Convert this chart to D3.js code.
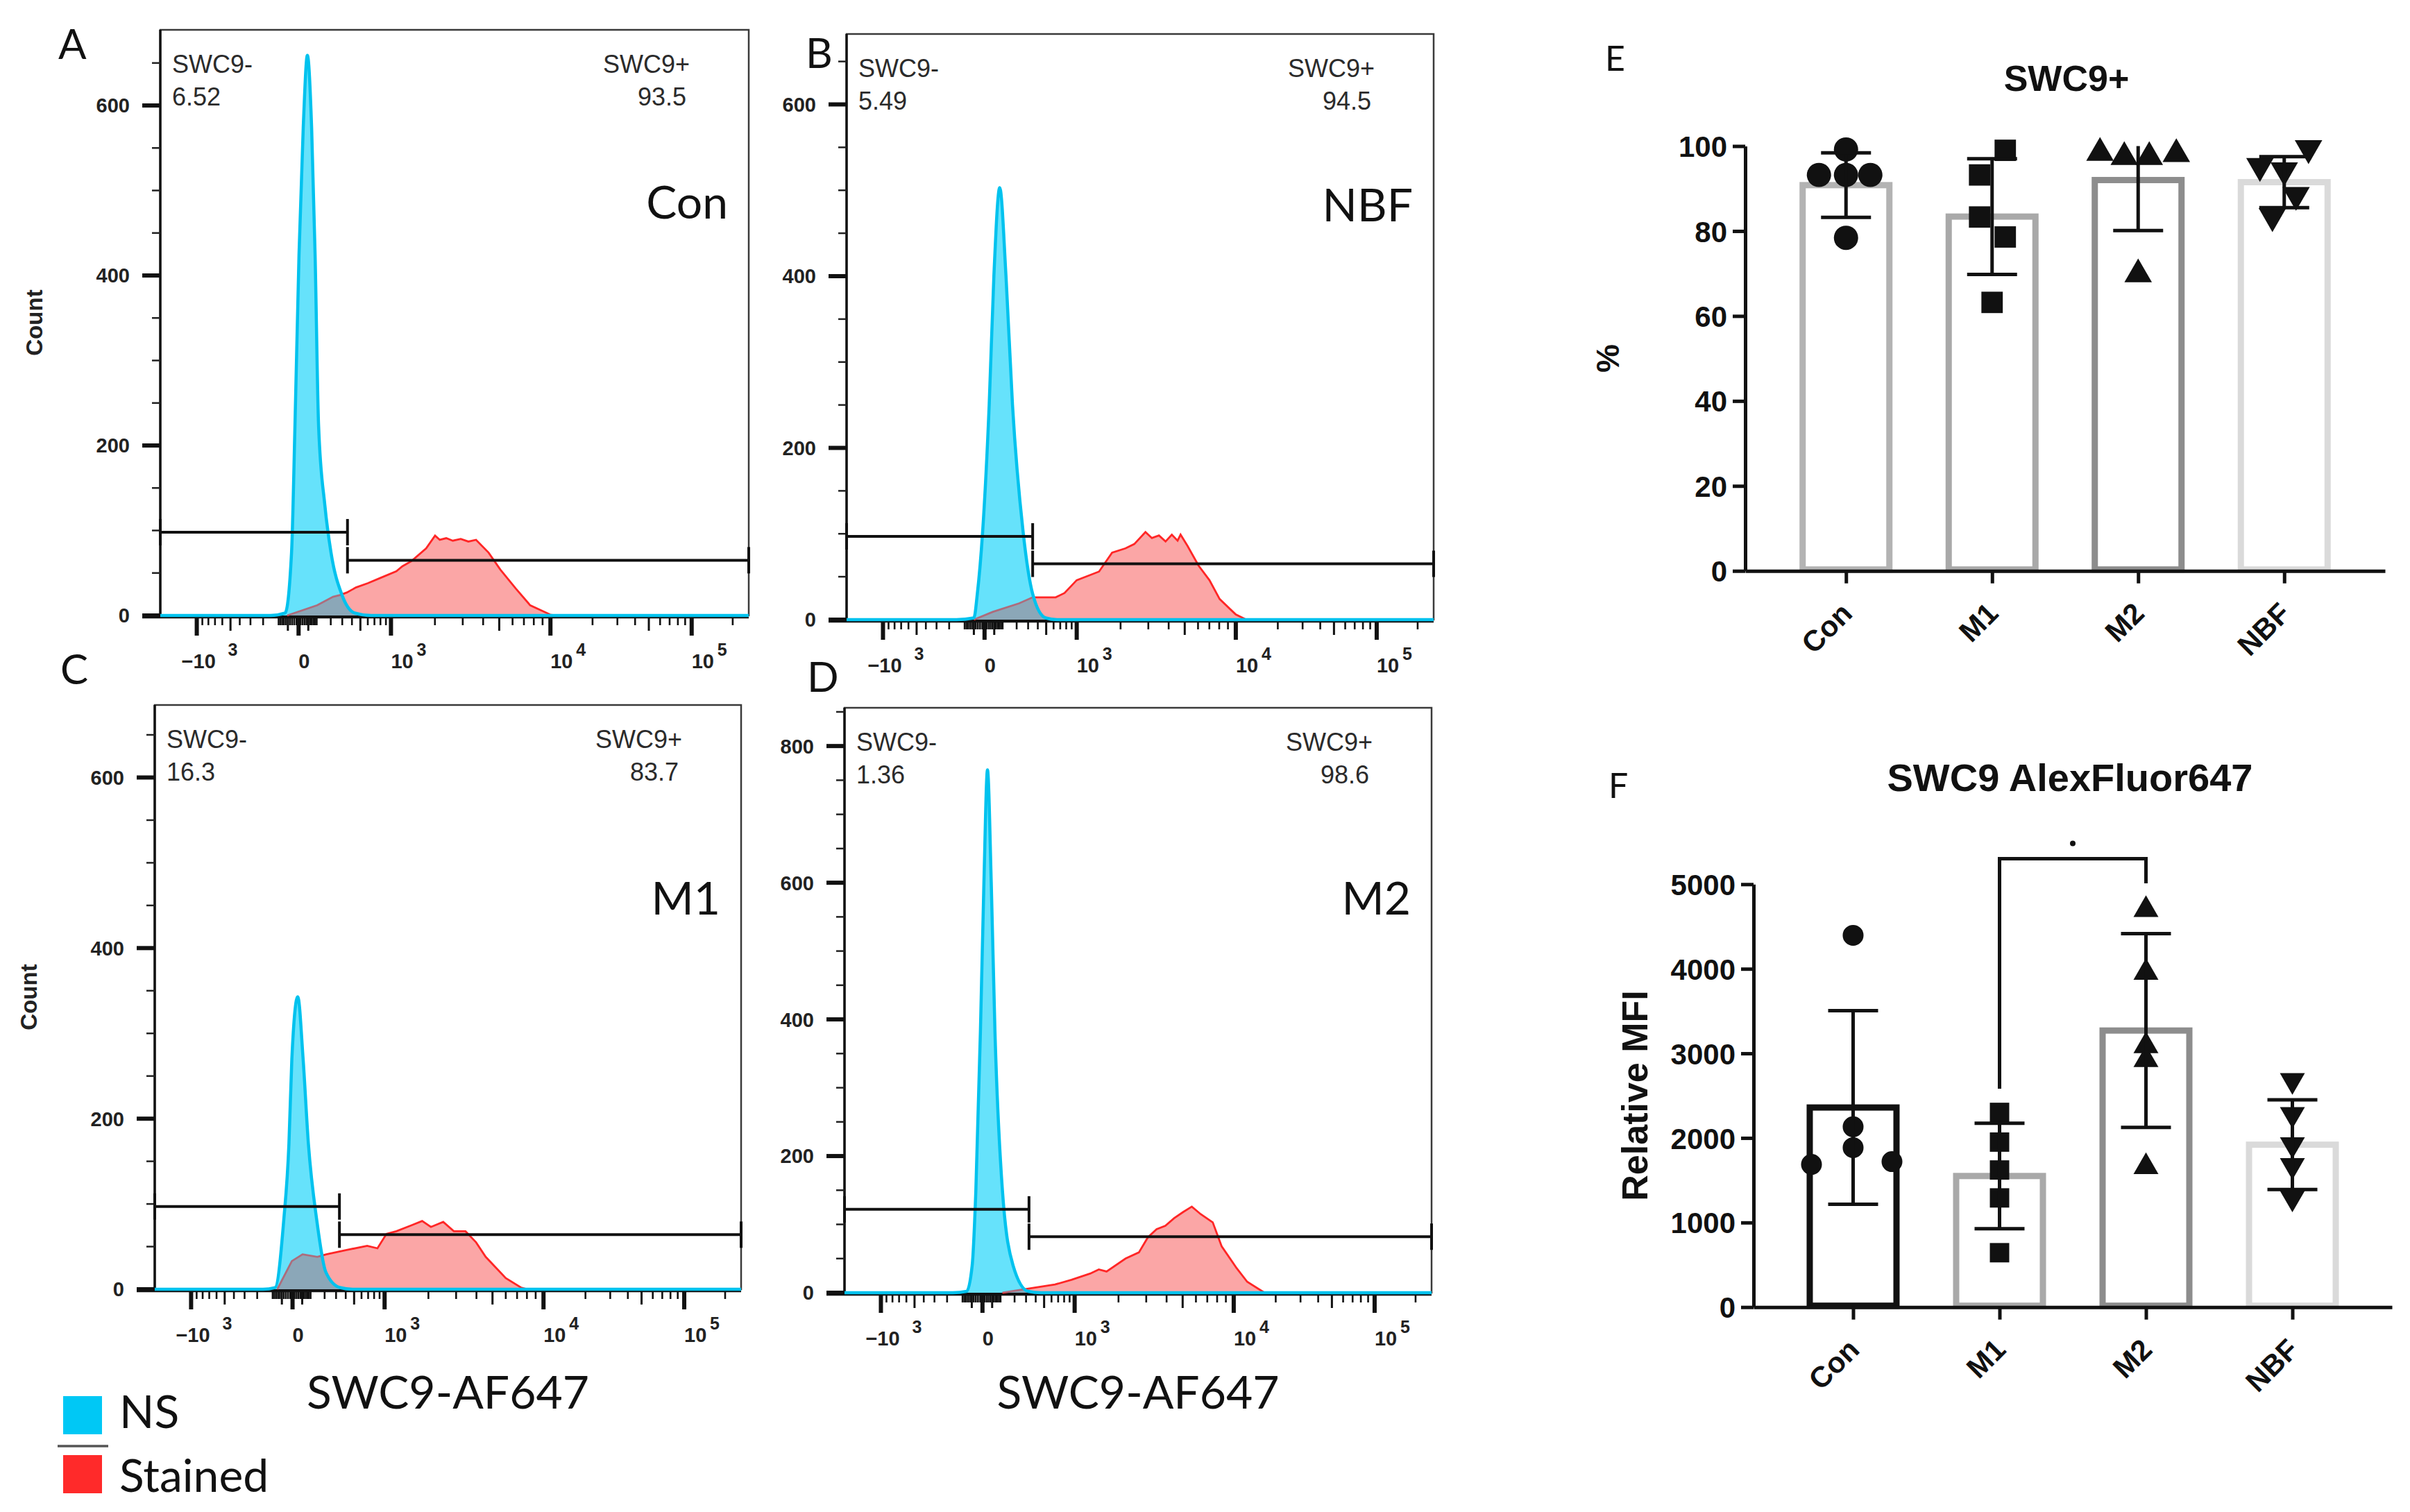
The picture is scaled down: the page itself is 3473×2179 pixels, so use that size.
<!DOCTYPE html>
<html>
<head>
<meta charset="utf-8">
<script src="https://cdn.jsdelivr.net/npm/d3@7"></script>
<style>
  body { margin: 0; background: #fff; }
  svg { display: block; }
</style>
</head>
<body>
<script>
// ---------------- data ----------------
// flow histograms: [fluorescence, count]
const flowLetters = ["A", "B", "C", "D"];
const flowGroups = ["Con", "NBF", "M1", "M2"];
const negPct = ["6.52", "5.49", "16.3", "1.36"];
const posPct = ["93.5", "94.5", "83.7", "98.6"];
const flowYMax = [689, 682, 685, 856];
const flowYTicks = [[0, 200, 400, 600], [0, 200, 400, 600], [0, 200, 400, 600], [0, 200, 400, 600, 800]];
const gateX = [352, 345, 333, 329];
const gateNegY = [98, 97, 97, 122];
const gatePosY = [65, 65, 64, 82];

const nsA = [[-2000,0],[-150,0],[-64,3],[-32,74],[-16,224],[2,424],[23,574],[45,659],[69,574],[90,424],[112,224],[155,130],[202,74],[298,24],[430,3],[650,0],[262144,0]];
const stA = [[-54,0],[103,12],[218,22],[277,24],[345,27],[446,33],[600,38],[792,44],[1093,52],[1210,58],[1396,64],[1752,79],[2004,94],[2150,89],[2364,91],[2600,88],[2916,90],[3250,87],[3623,89],[4314,74],[5076,54],[6255,32],[7619,12],[9980,1],[10800,0]];
const nsB = [[-2000,0],[-150,0],[-50,2],[-33,30],[-9,100],[23,250],[48,400],[82,503],[122,400],[168,250],[256,100],[345,30],[493,2],[650,0],[262144,0]];
const stB = [[-50,0],[41,9],[220,19],[345,26],[631,26],[770,31],[1000,46],[1438,56],[1760,78],[2150,83],[2448,88],[2880,102],[3157,95],[3490,98],[3830,91],[4180,99],[4530,92],[4720,99],[5190,86],[6040,63],[7010,46],[8050,24],[10000,6],[11900,0]];
const nsC = [[-2000,0],[-160,0],[-86,2],[-41,80],[-16,171],[-3,270],[26,343],[55,270],[86,171],[142,80],[210,20],[337,2],[480,0],[262144,0]];
const stC = [[-74,0],[-3,33],[52,41],[145,38],[215,41],[410,46],[685,51],[860,48],[1033,65],[1215,68],[1548,75],[1820,80],[2076,73],[2490,79],[2903,68],[3429,68],[3980,55],[4550,38],[5200,26],[6000,13],[7380,2],[8070,0]];
const nsD = [[-2000,0],[-160,0],[-77,2],[-48,40],[-30,150],[-9,382],[7,600],[25,765],[45,600],[66,382],[112,150],[188,40],[321,2],[460,0],[262144,0]];
const stD = [[112,0],[321,6],[650,12],[936,19],[1290,28],[1480,34],[1670,31],[2220,50],[2700,59],[3070,81],[3475,93],[3930,98],[4440,109],[5030,118],[5670,126],[6400,115],[7540,103],[8500,68],[10410,37],[12510,16],[16650,0]];
const nsSeries = [nsA, nsB, nsC, nsD];
const stSeries = [stA, stB, stC, stD];

// bar charts
const groups = ["Con", "M1", "M2", "NBF"];
const posMean = [90.8, 83.4, 92.0, 91.5];
const posSd = [7.6, 13.6, 11.9, 6.0];
const posPts = [[99.2, 93.2, 93.2, 93.2, 78.4], [99.0, 93.2, 83.3, 78.6, 63.2], [98.4, 97.4, 97.4, 98.1, 69.8], [99.5, 95.3, 94.3, 88.5, 83.5]];
const posTicks = [0, 20, 40, 60, 80, 100];
const mfiMean = [2360, 1550, 3270, 1920];
const mfiSd = [1145, 623, 1146, 530];
const mfiPts = [[4396, 2132, 1885, 1687, 1720], [2302, 1951, 1621, 1291, 643], [4698, 3956, 3088, 2923, 1659], [2681, 2280, 1923, 1676, 1291]];
const mfiTicks = [0, 1000, 2000, 3000, 4000, 5000];

// ---------------- layout ----------------
const W = 3473, H = 2179;
const LAB = "Lato, 'Open Sans', sans-serif";
const NUM = "'Liberation Sans', Arial, sans-serif";

const flowFrames = [
  { x0: 231, x1: 1079, y0: 43, y1: 887 },
  { x0: 1220, x1: 2066, y0: 49, y1: 893 },
  { x0: 223, x1: 1068, y0: 1016, y1: 1858 },
  { x0: 1217, x1: 2063, y0: 1020, y1: 1863 }
];
const letterPos = [[84, 85], [1161, 98], [87, 986], [1163, 997]];
const groupLabelDy = [272, 270, 302, 298];
const showCount = [true, false, true, false];
// biexponential-like display axis: tick anchors and where they sit across the frame
const xAnchors = [-2000, -1000, 0, 1000, 1e4, 1e5, 262144];
const xFracs = [0, 0.062, 0.235, 0.392, 0.663, 0.903, 1];

const flowTicks = [];
[-1000, 0, 1000, 1e4, 1e5].forEach(v => flowTicks.push({ v: v, kind: "major" }));
[10, 100, 1000, 10000, 100000].forEach(dec => {
  for (let k = 1; k <= 9; k++) {
    if (k === 1 && dec >= 1000) continue;
    const v = k * dec;
    const kind = k === 5 ? "mid" : "minor";
    if (v < 262144) flowTicks.push({ v: v, kind: kind });
    if (dec <= 100) flowTicks.push({ v: -v, kind: kind });
  }
});

const svg = d3.select("body").append("svg")
  .attr("width", W)
  .attr("height", H)
  .attr("viewBox", `0 0 ${W} ${H}`);
svg.append("rect").attr("width", W).attr("height", H).attr("fill", "#fff");
const defs = svg.append("defs");

// ---------------- flow panels ----------------
flowLetters.forEach((letter, i) => {
  const f = flowFrames[i];
  const g = svg.append("g");

  const x = d3.scaleSymlog().constant(300)
    .domain(xAnchors)
    .range(xFracs.map(t => f.x0 + t * (f.x1 - f.x0)));
  const y = d3.scaleLinear().domain([0, flowYMax[i]]).range([f.y1, f.y0]);

  // frame
  g.append("rect")
    .attr("x", f.x0).attr("y", f.y0)
    .attr("width", f.x1 - f.x0).attr("height", f.y1 - f.y0)
    .attr("fill", "none").attr("stroke", "#3a3a3a").attr("stroke-width", 2.5);
  g.append("line").attr("x1", f.x0).attr("x2", f.x0).attr("y1", f.y0).attr("y2", f.y1 + 2)
    .attr("stroke", "#111").attr("stroke-width", 3.5);
  g.append("line").attr("x1", f.x0 - 26).attr("x2", f.x1).attr("y1", f.y1 + 2).attr("y2", f.y1 + 2)
    .attr("stroke", "#111").attr("stroke-width", 4.5);

  // y ticks
  const yMinor = d3.range(50, flowYMax[i], 50).filter(v => v % 200 !== 0);
  g.selectAll(".ymin").data(yMinor).enter().append("line")
    .attr("x1", f.x0 - 12).attr("x2", f.x0)
    .attr("y1", d => y(d)).attr("y2", d => y(d))
    .attr("stroke", "#222").attr("stroke-width", 2.5);
  g.selectAll(".ymaj").data(flowYTicks[i]).enter().append("line")
    .attr("x1", f.x0 - 26).attr("x2", f.x0)
    .attr("y1", d => y(d)).attr("y2", d => y(d))
    .attr("stroke", "#111").attr("stroke-width", 6);
  g.selectAll(".ylab").data(flowYTicks[i]).enter().append("text")
    .attr("x", f.x0 - 44).attr("y", d => y(d))
    .attr("dy", "0.36em")
    .attr("text-anchor", "end")
    .attr("font-family", NUM).attr("font-weight", "bold").attr("font-size", 29)
    .attr("fill", "#222")
    .text(d => d);

  // x ticks
  const tlen = { major: 27, mid: 20, minor: 12 };
  const twid = { major: 6, mid: 3, minor: 2.6 };
  g.selectAll(".xt").data(flowTicks).enter().append("line")
    .attr("x1", d => x(d.v)).attr("x2", d => x(d.v))
    .attr("y1", f.y1 + 2).attr("y2", d => f.y1 + 2 + tlen[d.kind])
    .attr("stroke", "#111").attr("stroke-width", d => twid[d.kind]);

  const xl = [
    { v: -1000, base: "\u221210", sup: "3", dx: -22, sdx: 45 },
    { v: 0, base: "0", sup: "", dx: 0, sdx: 0 },
    { v: 1000, base: "10", sup: "3", dx: 0, sdx: 37 },
    { v: 1e4, base: "10", sup: "4", dx: 0, sdx: 37 },
    { v: 1e5, base: "10", sup: "5", dx: 0, sdx: 37 }
  ];
  g.selectAll(".xlab").data(xl).enter().append("text")
    .attr("x", d => x(d.v) + (d.v === 0 ? 8 : d.dx))
    .attr("y", f.y1 + 76)
    .attr("text-anchor", d => d.v === 0 ? "middle" : "start")
    .attr("font-family", NUM).attr("font-weight", "bold").attr("font-size", 29)
    .attr("fill", "#222")
    .text(d => d.base);
  g.selectAll(".xsup").data(xl.filter(d => d.sup)).enter().append("text")
    .attr("x", d => x(d.v) + d.sdx)
    .attr("y", f.y1 + 58)
    .attr("font-family", NUM).attr("font-weight", "bold").attr("font-size", 25)
    .attr("fill", "#222")
    .text(d => d.sup);

  // histograms
  const stArea = d3.area().x(d => x(d[0])).y0(y(0)).y1(d => y(d[1]));
  const stLine = d3.line().x(d => x(d[0])).y(d => y(d[1]));
  const nsArea = d3.area().x(d => x(d[0])).y0(y(0)).y1(d => y(d[1])).curve(d3.curveMonotoneX);
  const nsLine = d3.line().x(d => x(d[0])).y(d => y(d[1])).curve(d3.curveMonotoneX);

  defs.append("clipPath").attr("id", "frame" + i).append("rect")
    .attr("x", f.x0).attr("y", f.y0)
    .attr("width", f.x1 - f.x0).attr("height", f.y1 - f.y0 + 3);
  defs.append("clipPath").attr("id", "stclip" + i).append("path")
    .datum(stSeries[i]).attr("d", stArea);
  defs.append("clipPath").attr("id", "nsclip" + i).append("path")
    .datum(nsSeries[i]).attr("d", nsArea);

  const hist = g.append("g").attr("clip-path", `url(#frame${i})`);
  hist.append("path").datum(stSeries[i]).attr("d", stArea).attr("fill", "#fba6a6");
  hist.append("path").datum(stSeries[i]).attr("d", stLine)
    .attr("fill", "none").attr("stroke", "#ff2626").attr("stroke-width", 2.8);
  hist.append("path").datum(nsSeries[i]).attr("d", nsArea).attr("fill", "#66e2fb");
  // where the two populations overlap
  hist.append("path").datum(nsSeries[i]).attr("d", nsArea)
    .attr("clip-path", `url(#stclip${i})`)
    .attr("fill", "#8ba7b8");
  hist.append("path").datum(stSeries[i]).attr("d", stLine)
    .attr("clip-path", `url(#nsclip${i})`)
    .attr("fill", "none").attr("stroke", "#ad6c7c").attr("stroke-width", 2.8);
  hist.append("path").datum(nsSeries[i]).attr("d", nsLine)
    .attr("fill", "none").attr("stroke", "#00c2ee").attr("stroke-width", 4.5);

  // gates
  const gx = x(gateX[i]);
  const gn = y(gateNegY[i]), gp = y(gatePosY[i]);
  const gate = g.append("g").attr("stroke", "#111").attr("stroke-width", 4);
  gate.append("line").attr("x1", f.x0).attr("x2", gx).attr("y1", gn).attr("y2", gn);
  gate.append("line").attr("x1", f.x0).attr("x2", f.x0).attr("y1", gn - 19).attr("y2", gn + 19);
  gate.append("line").attr("x1", gx).attr("x2", gx).attr("y1", gn - 19).attr("y2", gn + 19);
  gate.append("line").attr("x1", gx).attr("x2", f.x1).attr("y1", gp).attr("y2", gp);
  gate.append("line").attr("x1", gx).attr("x2", gx).attr("y1", gp - 19).attr("y2", gp + 19);
  gate.append("line").attr("x1", f.x1).attr("x2", f.x1).attr("y1", gp - 19).attr("y2", gp + 19);

  // gate texts
  const t = g.append("g").attr("font-family", NUM).attr("font-size", 36).attr("fill", "#2b2b2b");
  t.append("text").attr("x", f.x0 + 17).attr("y", f.y0 + 62).text("SWC9-");
  t.append("text").attr("x", f.x0 + 17).attr("y", f.y0 + 109).text(negPct[i]);
  t.append("text").attr("x", f.x1 - 85).attr("y", f.y0 + 62).attr("text-anchor", "end").text("SWC9+");
  t.append("text").attr("x", f.x1 - 90).attr("y", f.y0 + 109).attr("text-anchor", "end").text(posPct[i]);

  g.append("text").attr("x", f.x1 - 30).attr("y", f.y0 + groupLabelDy[i])
    .attr("text-anchor", "end")
    .attr("font-family", LAB).attr("font-size", 66).attr("fill", "#111")
    .text(flowGroups[i]);

  g.append("text").attr("x", letterPos[i][0]).attr("y", letterPos[i][1])
    .attr("font-family", LAB).attr("font-size", 60).attr("fill", "#111")
    .text(letter);

  if (showCount[i]) {
    const cy = (f.y0 + f.y1) / 2;
    g.append("text")
      .attr("transform", `translate(${f.x0 - 170},${cy}) rotate(-90)`)
      .attr("text-anchor", "middle")
      .attr("font-family", NUM).attr("font-weight", "bold").attr("font-size", 33)
      .attr("fill", "#222")
      .text("Count");
  }
  if (i >= 2) {
    g.append("text").attr("x", (f.x0 + f.x1) / 2).attr("y", 2030)
      .attr("text-anchor", "middle")
      .attr("font-family", LAB).attr("font-size", 66).attr("fill", "#111")
      .text("SWC9-AF647");
  }
});

// legend
const legend = svg.append("g").attr("font-family", LAB).attr("font-size", 66).attr("fill", "#111");
legend.append("rect").attr("x", 91).attr("y", 2012).attr("width", 56).attr("height", 55).attr("fill", "#00c8f5");
legend.append("text").attr("x", 172).attr("y", 2058).text("NS");
legend.append("line").attr("x1", 83).attr("x2", 156).attr("y1", 2084).attr("y2", 2084)
  .attr("stroke", "#555").attr("stroke-width", 3.5);
legend.append("rect").attr("x", 91).attr("y", 2097).attr("width", 56).attr("height", 55).attr("fill", "#ff2a2a");
legend.append("text").attr("x", 172).attr("y", 2150).text("Stained");

// ---------------- bar charts ----------------
const shapes = [d3.symbolCircle, d3.symbolSquare, d3.symbolTriangle, d3.symbolTriangle];
const shapeRot = [0, 0, 0, 180];

function barChart(o) {
  const g = svg.append("g");
  const x = d3.scalePoint().domain(groups).range([o.ax, o.xEnd]).padding(o.pad);
  const y = d3.scaleLinear().domain([0, o.yMax]).range([o.yBot, o.yTop]);
  const bw = 125;

  g.selectAll(".bar").data(groups).enter().append("rect")
    .attr("x", d => x(d) - bw / 2)
    .attr("y", (d, i) => y(o.means[i]))
    .attr("width", bw)
    .attr("height", (d, i) => o.yBot - y(o.means[i]) - 2)
    .attr("fill", "#fff")
    .attr("stroke", (d, i) => o.colors[i])
    .attr("stroke-width", 9);

  // points
  groups.forEach((grp, i) => {
    const sym = d3.symbol().type(shapes[i]).size(o.sizes[i]);
    g.selectAll(".pt" + i).data(o.pts[i]).enter().append("path")
      .attr("d", sym)
      .attr("transform", (d, j) => `translate(${x(grp) + o.jitter[i][j]},${y(d)}) rotate(${shapeRot[i]})`)
      .attr("fill", "#111");
  });

  // error bars (mean ± SD, clipped at the axis top)
  groups.forEach((grp, i) => {
    const cx = x(grp);
    const hi = o.means[i] + o.sds[i], lo = o.means[i] - o.sds[i];
    const top = Math.min(hi, o.yMax);
    const eb = g.append("g").attr("stroke", "#111").attr("stroke-width", 5);
    eb.append("line").attr("x1", cx).attr("x2", cx).attr("y1", y(top)).attr("y2", y(lo));
    eb.append("line").attr("x1", cx - 36).attr("x2", cx + 36).attr("y1", y(lo)).attr("y2", y(lo));
    if (hi <= o.yMax) eb.append("line").attr("x1", cx - 36).attr("x2", cx + 36).attr("y1", y(hi)).attr("y2", y(hi));
  });

  // axes
  const ya = g.append("g").attr("transform", `translate(${o.ax},0)`)
    .call(d3.axisLeft(y).tickValues(o.ticks).tickFormat(d3.format("d"))
      .tickSize(18).tickSizeOuter(0).tickPadding(8));
  const xa = g.append("g").attr("transform", `translate(0,${o.yBot})`)
    .call(d3.axisBottom(x).tickSize(18).tickSizeOuter(0));
  [ya, xa].forEach(a => {
    a.select(".domain").attr("stroke", "#111").attr("stroke-width", 5);
    a.selectAll(".tick line").attr("stroke", "#111").attr("stroke-width", 5);
    a.selectAll("text").attr("font-family", NUM).attr("font-weight", "bold")
      .attr("font-size", 42).attr("fill", "#111");
  });
  ya.selectAll("text").attr("dy", "0.36em");
  xa.selectAll(".tick text")
    .attr("text-anchor", "end")
    .attr("dy", "0.7em")
    .attr("y", 0)
    .attr("transform", "translate(-10,43) rotate(-45)");

  g.append("text").attr("x", o.titleX).attr("y", o.titleY)
    .attr("text-anchor", "middle")
    .attr("font-family", NUM).attr("font-weight", "bold").attr("font-size", o.titleSize).attr("fill", "#111")
    .text(o.title);
  g.append("text")
    .attr("transform", `translate(${o.ylabX},${(o.yTop + o.yBot) / 2}) rotate(-90)`)
    .attr("text-anchor", "middle").attr("dy", "0.36em")
    .attr("font-family", NUM).attr("font-weight", "bold").attr("font-size", o.ylabSize).attr("fill", "#111")
    .text(o.ylab);
  g.append("text").attr("x", o.letterX).attr("y", o.letterY)
    .attr("font-family", LAB).attr("font-size", 50).attr("fill", "#111")
    .text(o.letter);
  return { g, x, y };
}

barChart({
  ax: 2515, xEnd: 3437, yTop: 210.5, yBot: 822.7, pad: 0.69, yMax: 100,
  means: posMean, sds: posSd, pts: posPts, ticks: posTicks,
  colors: ["#b3b3b3", "#a9a9a9", "#8d8d8d", "#dadada"],
  sizes: [960, 950, 680, 680],
  jitter: [[0, -39, 0, 35, 0], [19, -18, -18, 19, 0], [-55, -20, 16, 55, 0], [35, -35, 0, 17, -17]],
  title: "SWC9+", titleX: 2978, titleY: 131, titleSize: 52,
  ylab: "%", ylabX: 2316, ylabSize: 46,
  letter: "E", letterX: 2313, letterY: 102
});

const F = barChart({
  ax: 2527, xEnd: 3447, yTop: 1274.3, yBot: 1883.7, pad: 0.68, yMax: 5000,
  means: mfiMean, sds: mfiSd, pts: mfiPts, ticks: mfiTicks,
  colors: ["#111111", "#a9a9a9", "#8d8d8d", "#dadada"],
  sizes: [710, 780, 560, 560],
  jitter: [[0, 0, 0, -60, 56], [0, 0, 0, 0, 0], [0, 0, 0, 0, 0], [0, 0, 0, 0, 0]],
  title: "SWC9 AlexFluor647", titleX: 2983, titleY: 1140, titleSize: 56,
  ylab: "Relative MFI", ylabX: 2355, ylabSize: 52,
  letter: "F", letterX: 2318, letterY: 1150
});

// significance bracket M1 vs M2
const bx1 = F.x("M1"), bx2 = F.x("M2");
F.g.append("path")
  .attr("d", `M${bx1},${F.y(2583)}V${F.y(5302)}H${bx2}V${F.y(5010)}`)
  .attr("fill", "none").attr("stroke", "#111").attr("stroke-width", 5);
F.g.append("circle").attr("cx", (bx1 + bx2) / 2).attr("cy", F.y(5302) - 22).attr("r", 4).attr("fill", "#111");
</script>
</body>
</html>
